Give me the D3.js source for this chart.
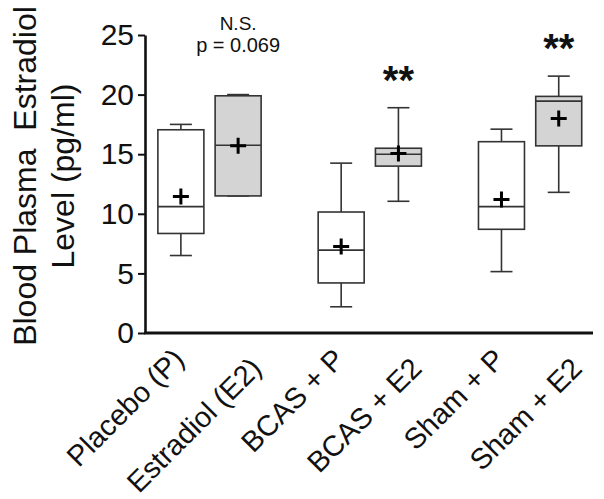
<!DOCTYPE html>
<html>
<head>
<meta charset="utf-8">
<script src="https://cdn.jsdelivr.net/npm/d3@7"></script>
<style>
  html, body { margin: 0; padding: 0; background: #fff; }
  svg { display: block; font-family: "Liberation Sans", Arial, sans-serif; }
  text { white-space: pre; }
</style>
</head>
<body>
<svg id="chart" width="604" height="499"></svg>
<script>
// ---- data ----
const categories = ["Placebo (P)", "Estradiol (E2)", "BCAS + P", "BCAS + E2", "Sham + P", "Sham + E2"];
const groups = ["Control", "Control", "BCAS", "BCAS", "Sham", "Sham"];
const treatments = ["P", "E2", "P", "E2", "P", "E2"];
const whiskerLow  = [6.5, 11.5, 2.2, 11.05, 5.15, 11.8];
const q1          = [8.35, 11.5, 4.2, 14.0, 8.7, 15.7];
const median      = [10.6, 15.75, 6.95, 15.0, 10.6, 19.45];
const q3          = [17.05, 19.9, 10.15, 15.5, 16.05, 19.85];
const whiskerHigh = [17.5, 20.0, 14.25, 18.9, 17.1, 21.55];
const means       = [11.45, 15.7, 7.25, 15.05, 11.2, 18.0];
const yTicks = [0, 5, 10, 15, 20, 25];
const yLabelLines = ["Blood Plasma  Estradiol", "Level (pg/ml)"];
const nsLines = ["N.S.", "p = 0.069"];
const nsCategory = "Estradiol (E2)";
const starCategories = ["BCAS + E2", "Sham + E2"];
const starText = "**";

// ---- layout ----
const svg = d3.select("#chart");
const axisX = 145, axisTop = 35, axisBottom = 333, axisRight = 593;
const y = d3.scaleLinear().domain([0, 25]).range([axisBottom, axisTop]);
const groupDomain = Array.from(new Set(groups));
const xOuter = d3.scaleBand().domain(groupDomain).range([129.35, 610.25]);
const xInner = d3.scalePoint().domain(["P", "E2"]).range([0, xOuter.bandwidth()]).padding(0.9);
const cx = i => xOuter(groups[i]) + xInner(treatments[i]);
const boxW = 46, capW = 22;
// label anchor shift per treatment (as in the original figure)
const labelShift = { P: [5, 361], E2: [25, 370] };

const data = categories.map((c, i) => ({
  cat: c, i, lo: whiskerLow[i], q1: q1[i], med: median[i], q3: q3[i], hi: whiskerHigh[i], mean: means[i],
  tr: treatments[i],
  fill: treatments[i] === "E2" ? "#d4d4d4" : "#ffffff"
}));

// y axis
const yAxis = d3.axisLeft(y).tickValues(yTicks).tickSize(7).tickPadding(4).tickSizeOuter(0);
const gy = svg.append("g").attr("transform", `translate(${axisX},0)`).call(yAxis);
gy.select(".domain").attr("stroke", "#111").attr("stroke-width", 2.6);
gy.selectAll(".tick line").attr("stroke", "#111").attr("stroke-width", 2);
gy.selectAll(".tick text").attr("font-size", 30).attr("fill", "#111")
  .attr("font-family", "'Liberation Sans', Arial, sans-serif");

// x axis line
svg.append("line").attr("x1", axisX - 1).attr("x2", axisRight)
  .attr("y1", axisBottom).attr("y2", axisBottom)
  .attr("stroke", "#111").attr("stroke-width", 3);

// boxes
const g = svg.append("g");
const bx = g.selectAll("g.box").data(data).join("g").attr("class", "box");
const stroke = "#333", sw = 1.6;
bx.append("line").attr("x1", d => cx(d.i)).attr("x2", d => cx(d.i))
  .attr("y1", d => y(d.hi)).attr("y2", d => y(d.q3)).attr("stroke", stroke).attr("stroke-width", sw);
bx.append("line").attr("x1", d => cx(d.i)).attr("x2", d => cx(d.i))
  .attr("y1", d => y(d.q1)).attr("y2", d => y(d.lo)).attr("stroke", stroke).attr("stroke-width", sw);
bx.append("line").attr("x1", d => cx(d.i) - capW / 2).attr("x2", d => cx(d.i) + capW / 2)
  .attr("y1", d => y(d.hi)).attr("y2", d => y(d.hi)).attr("stroke", stroke).attr("stroke-width", sw);
bx.append("line").attr("x1", d => cx(d.i) - capW / 2).attr("x2", d => cx(d.i) + capW / 2)
  .attr("y1", d => y(d.lo)).attr("y2", d => y(d.lo)).attr("stroke", stroke).attr("stroke-width", sw);
bx.append("rect").attr("x", d => cx(d.i) - boxW / 2).attr("width", boxW)
  .attr("y", d => y(d.q3)).attr("height", d => y(d.q1) - y(d.q3))
  .attr("fill", d => d.fill).attr("stroke", stroke).attr("stroke-width", sw);
bx.append("line").attr("x1", d => cx(d.i) - boxW / 2).attr("x2", d => cx(d.i) + boxW / 2)
  .attr("y1", d => y(d.med)).attr("y2", d => y(d.med)).attr("stroke", stroke).attr("stroke-width", sw);
// mean plus
const pl = 8;
bx.append("path")
  .attr("d", d => `M${cx(d.i) - pl},${y(d.mean)}H${cx(d.i) + pl}M${cx(d.i)},${y(d.mean) - pl}V${y(d.mean) + pl}`)
  .attr("stroke", "#000").attr("stroke-width", 3).attr("fill", "none");

// x labels
svg.append("g").selectAll("text").data(data).join("text")
  .attr("transform", d => `translate(${cx(d.i) + labelShift[d.tr][0]},${labelShift[d.tr][1]}) rotate(-45)`)
  .attr("text-anchor", "end")
  .attr("font-size", 29).attr("fill", "#111")
  .text(d => d.cat);

// y label
const yl = svg.append("text").attr("transform", `translate(36,${(axisTop + axisBottom) / 2 - 8}) rotate(-90)`)
  .attr("text-anchor", "middle").attr("font-size", 32).attr("fill", "#111");
yLabelLines.forEach((t, k) => yl.append("tspan").attr("x", 0).attr("dy", k === 0 ? 0 : 38).text(t));

// N.S. annotation
const nsI = categories.indexOf(nsCategory);
svg.append("text").attr("x", cx(nsI)).attr("y", 30).attr("text-anchor", "middle")
  .attr("font-size", 19).attr("fill", "#111").text(nsLines[0]);
svg.append("text").attr("x", cx(nsI)).attr("y", 52).attr("text-anchor", "middle")
  .attr("font-size", 20).attr("fill", "#111").text(nsLines[1]);

// stars
starCategories.forEach(c => {
  const i = categories.indexOf(c);
  svg.append("text").attr("x", cx(i)).attr("y", y(whiskerHigh[i]) - 14)
    .attr("text-anchor", "middle").attr("font-size", 40).attr("font-weight", "bold")
    .attr("fill", "#111").text(starText);
});
</script>
</body>
</html>
